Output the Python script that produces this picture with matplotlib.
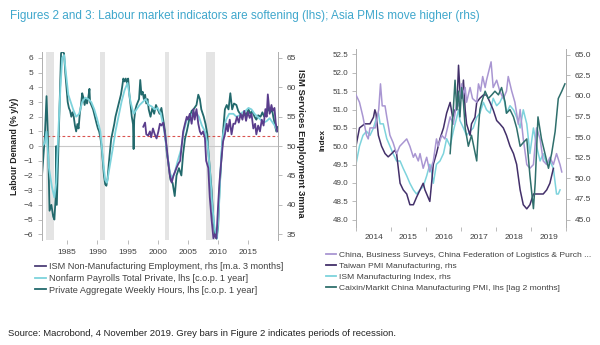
import numpy as np
import matplotlib
matplotlib.use("Agg")
import matplotlib.pyplot as plt
from matplotlib.lines import Line2D

plt.rcParams['font.family'] = ['Liberation Sans', 'DejaVu Sans']

# ---------------- Figure 2 data (decimal years) ----------------
recessions = [(1981.5, 1982.9), (1990.5, 1991.2), (2001.2, 2001.85), (2007.95, 2009.5)]

hours_x = [1980.85, 1981.3, 1981.6, 1981.8, 1982.0, 1982.1, 1982.4, 1982.7, 1982.9, 1983.1, 1983.2, 1983.3,
           1983.6, 1983.8, 1984.0, 1984.2, 1984.5, 1984.7, 1984.9, 1985.1, 1985.3, 1985.5, 1985.7, 1985.9,
           1986.1, 1986.3, 1986.5, 1986.7, 1986.9, 1987.1, 1987.3, 1987.5, 1987.7, 1987.9, 1988.1, 1988.3,
           1988.5, 1988.7, 1988.8, 1989.0, 1989.3, 1989.6, 1989.9, 1990.1, 1990.3, 1990.5, 1990.7, 1990.9,
           1991.1, 1991.3, 1991.5, 1991.7, 1991.9, 1992.1, 1992.3, 1992.5, 1992.8, 1993.0, 1993.3, 1993.6,
           1993.9, 1994.1, 1994.3, 1994.5, 1994.7, 1994.9, 1995.1, 1995.3, 1995.5, 1995.7, 1995.9, 1996.0,
           1996.1, 1996.3, 1996.5, 1996.7, 1996.9, 1997.1, 1997.3, 1997.5, 1997.7, 1997.9, 1998.1, 1998.3,
           1998.5, 1998.8, 1999.1, 1999.4, 1999.7, 2000.0, 2000.3, 2000.6, 2000.9, 2001.2, 2001.5, 2001.7,
           2002.1, 2002.45, 2002.8, 2003.1, 2003.5, 2003.9, 2004.2, 2004.5, 2004.8, 2005.3, 2005.6, 2005.9,
           2006.4, 2006.7, 2006.96, 2007.2, 2007.6, 2007.9, 2008.2, 2008.3, 2008.6, 2008.9, 2009.2, 2009.45,
           2009.7, 2009.98, 2010.2, 2010.5, 2010.8, 2011.1, 2011.4, 2011.7, 2012.0, 2012.3, 2012.6, 2013.0,
           2013.3, 2013.6, 2014.0, 2014.3, 2014.6, 2015.0, 2015.3, 2015.6, 2016.0, 2016.3, 2016.6, 2017.0,
           2017.3, 2017.6, 2018.0, 2018.3, 2018.6, 2018.9, 2019.1, 2019.3, 2019.6, 2019.8]
hours_y = [-2.0, 0.5, 3.4, 1.0, -2.5, -4.4, -4.0, -4.8, -5.0, -3.5, 0.0, -4.0,
           0.5, 3.5, 6.3, 6.5, 6.3, 5.0, 4.0, 3.0, 2.6, 2.4, 2.0, 2.3,
           2.0, 1.4, 1.0, 1.5, 1.2, 2.2, 2.8, 3.6, 3.3, 2.8, 3.2, 2.9,
           3.3, 3.9, 3.0, 2.8, 2.5, 2.0, 1.5, 1.2, 1.0, 0.6, 0.0, -1.0,
           -2.0, -2.6, -2.7, -2.2, -1.2, -0.3, 0.5, 0.9, 1.5, 2.0, 2.5, 3.0,
           3.5, 4.0, 4.6, 4.4, 4.6, 4.3, 4.6, 3.5, 2.8, 2.0, 1.5, -0.2,
           1.8, 2.5, 2.8, 3.0, 3.2, 4.5, 3.5, 3.7, 3.2, 3.5, 2.9, 3.2,
           2.5, 2.0, 2.6, 2.2, 2.8, 2.5, 2.2, 2.6, 1.8, 1.0, -0.5, -1.0,
           -2.3, -2.5, -3.4, -2.0, -1.5, -2.0, -0.5, 0.5, 1.0, 2.0, 2.4, 2.5,
           2.8, 3.5, 3.2, 2.5, 2.0, 1.5, 0.8, 0.0, -1.5, -3.0, -5.0, -6.0,
           -6.3, -5.5, -3.0, -1.0, 1.0, 2.5, 2.8, 2.5, 3.6, 2.5, 2.9, 2.8,
           2.4, 2.2, 2.0, 2.3, 2.1, 2.5, 2.2, 2.4, 2.0, 1.8, 2.1, 2.0,
           2.3, 2.0, 2.2, 2.6, 2.3, 2.5, 2.0, 1.6, 1.0, 1.3]

payrolls_x = [1980.85, 1981.3, 1981.6, 1982.0, 1982.5, 1982.9, 1983.2, 1983.5, 1983.9, 1984.2, 1984.5, 1984.8,
              1985.2, 1985.6, 1986.0, 1986.5, 1987.0, 1987.5, 1988.0, 1988.5, 1989.0, 1989.5, 1990.0, 1990.5,
              1991.0, 1991.3, 1991.6, 1992.0, 1992.5, 1993.0, 1993.5, 1994.0, 1994.5, 1995.0, 1995.5, 1996.0,
              1996.5, 1997.0, 1997.5, 1998.0, 1998.5, 1999.0, 1999.5, 2000.0, 2000.5, 2001.0, 2001.5, 2002.0,
              2002.4, 2002.8, 2003.3, 2003.8, 2004.3, 2004.8, 2005.3, 2005.8, 2006.3, 2006.8, 2007.3, 2007.8,
              2008.2, 2008.6, 2009.0, 2009.4, 2009.8, 2010.0, 2010.2, 2010.5, 2010.8, 2011.3, 2011.8, 2012.5,
              2013.0, 2013.5, 2014.0, 2014.5, 2015.0, 2015.5, 2016.0, 2016.5, 2017.0, 2017.5, 2018.0, 2018.5,
              2019.0, 2019.5, 2019.75]
payrolls_y = [0.0, 0.2, 1.0, -1.5, -2.8, -3.5, -2.5, 0.5, 4.0, 6.0, 6.2, 5.0,
              3.5, 3.0, 2.5, 2.0, 2.2, 3.0, 3.3, 3.2, 3.0, 2.5, 1.8, 1.0,
              -1.2, -2.3, -2.5, -1.5, -0.3, 1.0, 2.0, 3.0, 3.8, 4.3, 3.0, 2.2,
              2.5, 2.8, 3.0, 3.2, 2.8, 2.7, 2.5, 2.6, 2.2, 1.2, -0.3, -1.8,
              -2.2, -1.8, -1.0, -0.3, 1.0, 1.8, 2.0, 2.2, 2.3, 2.0, 1.4, 1.0,
              0.2, -1.5, -4.0, -5.6, -6.3, -5.0, -3.5, -0.5, 0.8, 1.8, 2.2, 2.2,
              2.0, 2.1, 2.3, 2.4, 2.6, 2.5, 2.2, 2.0, 1.8, 1.6, 1.7, 1.9,
              1.6, 1.3, 1.0]

ism_emp_x = [1997.6, 1997.9, 1998.1, 1998.4, 1998.7, 1998.9, 1999.2, 1999.5, 1999.8, 2000.1, 2000.35, 2000.6,
             2000.9, 2001.2, 2001.45, 2001.7, 2002.0, 2002.3, 2002.6, 2002.8, 2003.1, 2003.4, 2003.7, 2003.95,
             2004.2, 2004.5, 2004.8, 2005.0, 2005.3, 2005.6, 2005.9, 2006.1, 2006.4, 2006.7, 2006.96, 2007.2,
             2007.5, 2007.8, 2008.0, 2008.35, 2008.6, 2008.9, 2009.2, 2009.45, 2009.7, 2009.98, 2010.2, 2010.5,
             2010.8, 2011.1, 2011.4, 2011.6, 2011.9, 2012.2, 2012.5, 2012.8, 2013.1, 2013.4, 2013.7, 2014.0,
             2014.3, 2014.6, 2014.9, 2015.2, 2015.5, 2015.8, 2016.1, 2016.3, 2016.6, 2016.9, 2017.2, 2017.5,
             2017.8, 2018.0, 2018.2, 2018.5, 2018.8, 2019.0, 2019.3, 2019.5, 2019.75]
ism_emp_y = [53.3, 54.0, 52.0, 51.8, 52.5, 51.5, 53.0, 52.0, 51.3, 52.5, 53.8, 53.5,
             54.0, 52.0, 50.0, 47.5, 45.0, 43.8, 45.0, 45.5, 46.3, 47.0, 47.5, 50.0,
             52.5, 53.8, 55.0, 54.5, 55.5, 53.8, 56.3, 54.5, 56.3, 53.8, 52.5, 52.0,
             52.5, 51.3, 47.5, 46.3, 41.3, 37.5, 34.3, 35.0, 34.3, 40.0, 43.8, 47.5,
             50.8, 52.0, 53.8, 52.5, 54.5, 52.0, 53.8, 53.8, 55.0, 54.0, 55.5, 54.5,
             56.0, 54.3, 55.8, 54.8, 55.5, 53.0, 53.8, 52.0, 53.5, 52.5, 54.5, 53.5,
             56.3, 55.0, 58.8, 55.5, 57.0, 56.0, 56.5, 54.0, 52.5]

avg_line = 0.7
fig2_years = [1985, 1990, 1995, 2000, 2005, 2010, 2015]

# ---------------- Figure 3 data (decimal years) ----------------
cflp_x = [2014.0, 2014.1, 2014.2, 2014.3, 2014.35, 2014.4, 2014.55, 2014.65, 2014.7, 2014.75, 2014.83, 2014.88,
          2014.97, 2015.06, 2015.16, 2015.25, 2015.35, 2015.45, 2015.54, 2015.64, 2015.69, 2015.78, 2015.83, 2015.92,
          2016.02, 2016.11, 2016.21, 2016.3, 2016.35, 2016.45, 2016.54, 2016.59, 2016.69, 2016.78, 2016.88, 2016.93,
          2017.02, 2017.07, 2017.12, 2017.16, 2017.26, 2017.33, 2017.45, 2017.5, 2017.56, 2017.62, 2017.69, 2017.73,
          2017.86, 2017.92, 2018.02, 2018.11, 2018.21, 2018.3, 2018.35, 2018.45, 2018.54, 2018.64, 2018.69, 2018.78,
          2018.88, 2018.97, 2019.07, 2019.16, 2019.26, 2019.35, 2019.45, 2019.54, 2019.64, 2019.73, 2019.83, 2019.88]
cflp_y = [51.4, 51.2, 50.8, 50.3, 50.2, 50.5, 50.5, 51.0, 51.7, 51.1, 51.1, 50.8,
          50.3, 50.1, 49.8, 50.0, 50.1, 50.2, 50.0, 49.7, 49.8, 49.6, 49.8, 49.4,
          49.7, 49.3, 49.6, 50.2, 50.0, 50.3, 50.2, 50.4, 50.8, 50.6, 51.2, 51.1,
          51.7, 51.4, 51.6, 51.2, 51.6, 51.3, 51.2, 51.7, 51.5, 51.9, 51.6, 51.8,
          52.3, 51.6, 51.8, 51.5, 51.3, 51.5, 51.9, 51.5, 51.2, 50.6, 51.0, 50.2,
          49.5, 49.4, 49.5, 50.5, 50.2, 49.6, 49.5, 49.7, 49.5, 49.8, 49.5, 49.3]

taiwan_x = [2014.0, 2014.1, 2014.25, 2014.4, 2014.5, 2014.54, 2014.57, 2014.64, 2014.73, 2014.83, 2014.92, 2015.02,
            2015.11, 2015.16, 2015.26, 2015.35, 2015.45, 2015.54, 2015.64, 2015.73, 2015.83, 2015.92, 2015.97, 2016.02,
            2016.11, 2016.16, 2016.21, 2016.3, 2016.4, 2016.5, 2016.59, 2016.69, 2016.76, 2016.83, 2016.88, 2016.93,
            2016.97, 2017.02, 2017.07, 2017.12, 2017.16, 2017.26, 2017.3, 2017.4, 2017.45, 2017.54, 2017.64, 2017.73,
            2017.83, 2017.92, 2018.02, 2018.11, 2018.21, 2018.3, 2018.4, 2018.5, 2018.59, 2018.69, 2018.78, 2018.88,
            2018.97, 2019.07, 2019.16, 2019.26, 2019.35, 2019.45, 2019.54, 2019.64]
taiwan_y = [53.9, 56.1, 56.6, 56.6, 57.4, 58.3, 57.9, 55.2, 53.9, 53.0, 52.6, 53.0,
            53.4, 53.0, 49.4, 48.6, 48.1, 46.8, 46.8, 47.7, 48.6, 49.4, 48.6, 48.1,
            47.2, 49.4, 51.7, 53.0, 54.8, 56.1, 57.9, 59.2, 57.4, 58.3, 58.3, 63.7,
            60.6, 59.7, 61.9, 58.3, 56.6, 55.2, 56.6, 57.4, 59.2, 59.7, 60.1, 60.1,
            59.2, 58.3, 57.0, 56.6, 56.1, 55.2, 53.9, 53.0, 51.7, 48.6, 46.8, 46.3,
            46.8, 48.1, 48.1, 48.1, 48.1, 48.6, 49.4, 51.2]

ism_mfg_x = [2014.0, 2014.1, 2014.2, 2014.3, 2014.4, 2014.5, 2014.59, 2014.64, 2014.69, 2014.78, 2014.88, 2014.97,
             2015.06, 2015.16, 2015.26, 2015.35, 2015.45, 2015.54, 2015.64, 2015.73, 2015.83, 2015.92, 2016.02, 2016.11,
             2016.16, 2016.21, 2016.3, 2016.4, 2016.5, 2016.59, 2016.69, 2016.78, 2016.88, 2016.93, 2016.97, 2017.07,
             2017.16, 2017.26, 2017.35, 2017.45, 2017.54, 2017.64, 2017.73, 2017.83, 2017.92, 2018.02, 2018.11, 2018.21,
             2018.3, 2018.4, 2018.5, 2018.59, 2018.69, 2018.78, 2018.88, 2018.97, 2019.07, 2019.16, 2019.26, 2019.35,
             2019.45, 2019.54, 2019.64, 2019.73, 2019.78, 2019.83]
ism_mfg_y = [51.7, 53.9, 55.2, 55.7, 55.2, 56.1, 57.4, 57.9, 56.6, 56.6, 54.8, 53.9,
             53.0, 52.1, 52.1, 51.2, 50.3, 49.4, 48.6, 48.1, 48.6, 49.0, 50.3, 51.7,
             50.8, 49.4, 51.7, 52.1, 53.0, 54.8, 53.9, 55.7, 57.4, 58.3, 57.0, 56.1,
             55.2, 55.7, 56.1, 57.4, 57.9, 59.2, 58.3, 57.9, 59.7, 58.8, 59.2, 60.1,
             57.9, 58.8, 58.3, 57.4, 56.1, 58.3, 56.6, 53.0, 56.1, 53.9, 52.1, 53.0,
             51.7, 52.1, 51.2, 48.1, 48.1, 48.6]

caixin_x = [2016.69, 2016.74, 2016.78, 2016.83, 2016.88, 2016.93, 2016.97, 2017.02, 2017.07, 2017.12, 2017.21, 2017.3,
            2017.45, 2017.5, 2017.54, 2017.59, 2017.69, 2017.78, 2017.88, 2017.97, 2018.07, 2018.16, 2018.26, 2018.3,
            2018.4, 2018.5, 2018.59, 2018.69, 2018.78, 2018.88, 2018.97, 2019.07, 2019.12, 2019.2, 2019.3, 2019.4,
            2019.5, 2019.59, 2019.69, 2019.78, 2019.88, 2019.97]
caixin_y = [49.8, 50.5, 51.0, 51.8, 51.0, 51.5, 50.8, 51.6, 51.2, 50.5, 50.0, 50.3,
            49.6, 50.5, 51.0, 51.2, 51.5, 51.3, 51.4, 51.5, 51.4, 51.6, 51.2, 50.9,
            51.0, 50.8, 50.5, 50.0, 50.1, 50.2, 49.2, 48.3, 49.0, 50.8, 50.2, 49.8,
            49.4, 49.8, 50.4, 51.3, 51.5, 51.7]

fig3_years = [2014, 2015, 2016, 2017, 2018, 2019]

# ---------------- style ----------------
TEAL = '#22696c'
CYAN = '#7dd3dc'
PURPLE = '#5a3d8c'
LAVENDER = '#a996d2'
DARKPURPLE = '#43306a'
CAIXIN = '#2f6f6c'
SPINE = '#b0b0b0'
TXT = '#404040'


def style_axis(ax):
    for s in ['top', 'bottom']:
        ax.spines[s].set_visible(False)
    for s in ['left', 'right']:
        ax.spines[s].set_color(SPINE)
        ax.spines[s].set_linewidth(0.7)
    ax.tick_params(which='both', labelsize=6, colors=SPINE, labelcolor=TXT, length=3, width=0.6)


fig = plt.figure(figsize=(6, 3.45), dpi=100)
fig.patch.set_facecolor('white')

fig.text(10 / 600, 1 - 16 / 345, 'Figures 2 and 3: Labour market indicators are softening (lhs); '
         'Asia PMIs move higher (rhs)', color='#3fa7cc', fontsize=8.5, va='center', ha='left')

# ---- Figure 2 ----
ax1 = fig.add_axes([0.07, 0.304, 0.393, 0.545])
ax1r = ax1.twinx()
for a, b in recessions:
    ax1.axvspan(a, b, color='#e4e4e4', lw=0, zorder=0)
ax1.axhline(0, color='#c8c8c8', lw=0.8, zorder=1)
ax1.axhline(avg_line, color='#d9534f', lw=0.8, ls=(0, (2.5, 2)), zorder=1)
ax1.plot(hours_x, hours_y, color=TEAL, lw=1.3, zorder=3)
ax1.plot(payrolls_x, payrolls_y, color=CYAN, lw=1.3, zorder=4)
ax1r.plot(ism_emp_x, ism_emp_y, color=PURPLE, lw=1.3, zorder=3)
ax1.set_xlim(1980.85, 2019.85)
ax1.set_ylim(-6.4, 6.4)
ax1r.set_ylim(34.0, 66.0)
ax1.set_yticks(range(-6, 7))
ax1r.set_yticks(range(35, 66, 5))
ax1.set_xticks(fig2_years)
ax1.set_xticklabels([str(y) for y in fig2_years])
style_axis(ax1)
style_axis(ax1r)
ax1.set_ylabel('Labour Demand (% y/y)', fontsize=6.3, fontweight='bold', color='#222222', labelpad=3)
fig.text(300 / 600, 1 - 143 / 345, 'ISM Services Employment 3mma', rotation=270, fontsize=6.8,
         fontweight='bold', color='#222222', ha='center', va='center')

# ---- Figure 3 ----
ax2 = fig.add_axes([0.5933, 0.342, 0.35, 0.516])
ax2r = ax2.twinx()
ax2.plot(cflp_x, cflp_y, color=LAVENDER, lw=1.1, zorder=3)
ax2r.plot(ism_mfg_x, ism_mfg_y, color=CYAN, lw=1.1, zorder=2)
ax2r.plot(taiwan_x, taiwan_y, color=DARKPURPLE, lw=1.1, zorder=3)
ax2.plot(caixin_x, caixin_y, color=CAIXIN, lw=1.1, zorder=4)
ax2.set_zorder(ax2r.get_zorder() + 1)
ax2.patch.set_visible(False)
ax2.set_xlim(2014.0, 2020.0)
ax2.set_ylim(47.8, 52.65)
ax2r.set_ylim(44.1, 65.67)
ax2.set_yticks(np.arange(48.0, 52.51, 0.5))
ax2.set_yticklabels(['%.1f' % v for v in np.arange(48.0, 52.51, 0.5)])
ax2r.set_yticks(np.arange(45.0, 65.1, 2.5))
ax2r.set_yticklabels(['%.1f' % v for v in np.arange(45.0, 65.1, 2.5)])
ax2.set_xticks(list(fig3_years) + [2020])
ax2.set_xticklabels([])
ax2.set_xticks([y + 0.5 for y in fig3_years], minor=True)
ax2.set_xticklabels([str(y) for y in fig3_years], minor=True)
style_axis(ax2)
style_axis(ax2r)
ax2.tick_params(axis='y', labelsize=5.8, pad=2.5)
ax2.tick_params(axis='x', which='minor', length=0, pad=5)
fig.text(323 / 600, 1 - 140 / 345, 'Index', rotation=90, fontsize=6.0, fontweight='bold',
         color='#222222', ha='center', va='center')

# ---- legends ----
h1 = [Line2D([], [], color='#4d3f77', lw=1.3),
      Line2D([], [], color=CYAN, lw=1.3),
      Line2D([], [], color=TEAL, lw=1.3)]
l1 = ['ISM Non-Manufacturing Employment, rhs [m.a. 3 months]',
      'Nonfarm Payrolls Total Private, lhs [c.o.p. 1 year]',
      'Private Aggregate Weekly Hours, lhs [c.o.p. 1 year]']
fig.legend(h1, l1, loc='upper left', bbox_to_anchor=(0.058, 0.24), frameon=False, fontsize=6.55,
           handlelength=1.2, handletextpad=0.35, labelspacing=0.3, borderaxespad=0, borderpad=0,
           labelcolor=TXT)

h2 = [Line2D([], [], color=LAVENDER, lw=1.3),
      Line2D([], [], color=DARKPURPLE, lw=1.3),
      Line2D([], [], color=CYAN, lw=1.3),
      Line2D([], [], color=CAIXIN, lw=1.3)]
l2 = ['China, Business Surveys, China Federation of Logistics & Purch ...',
      'Taiwan PMI Manufacturing, rhs',
      'ISM Manufacturing Index, rhs',
      'Caixin/Markit China Manufacturing PMI, lhs [lag 2 months]']
fig.legend(h2, l2, loc='upper left', bbox_to_anchor=(0.543, 0.272), frameon=False, fontsize=6.1,
           handlelength=1.2, handletextpad=0.35, labelspacing=0.35, borderaxespad=0, borderpad=0,
           labelcolor=TXT)

fig.text(8 / 600, 1 - 333 / 345, 'Source: Macrobond, 4 November 2019. Grey bars in Figure 2 indicates '
         'periods of recession.', fontsize=6.8, color='#222222', va='center', ha='left')

fig.savefig('out.png', dpi=100, facecolor='white')
